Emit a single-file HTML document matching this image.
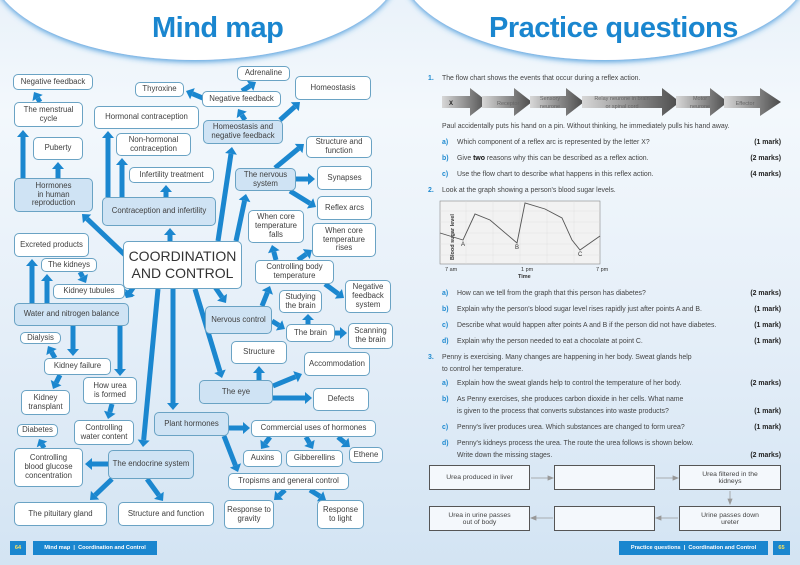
<!DOCTYPE html>
<html><head><meta charset="utf-8">
<style>
*{margin:0;padding:0;box-sizing:border-box}
body{width:800px;height:565px;overflow:hidden;position:relative;font-family:"Liberation Sans",sans-serif;background:linear-gradient(180deg,#eaf2fa 0%,#f3f8fc 20%,#e4eef8 60%,#d3e4f3 100%)}
.b{position:absolute;background:#fff;border:1px solid #6aa3c4;border-radius:5px;display:flex;align-items:center;justify-content:center;text-align:center;font-size:7.8px;line-height:1.15;color:#404040;padding:0 2px}
.h{background:#cfe3f4}
.t{position:absolute;font-size:6.9px;color:#444;white-space:nowrap}
.n{position:absolute;font-size:6.9px;color:#1f8ad0;font-weight:bold}
.m{position:absolute;right:19px;font-size:6.9px;font-weight:bold;color:#222}
.fb{position:absolute;border:1px solid #555;background:#f4f8fc;display:flex;align-items:center;justify-content:center;text-align:center;font-size:6.8px;color:#444}
h1{position:absolute;top:12px;font-size:29px;color:#1a86cf;font-weight:bold;letter-spacing:-0.5px}
.ft{position:absolute;background:#1a86cf;color:#fff;font-size:5.6px;font-weight:bold;display:flex;align-items:center;justify-content:center;height:14px;top:541px}
</style></head><body>
<svg width="800" height="565" style="position:absolute;left:0;top:0">
<defs>
<filter id="sh" x="-10%" y="-30%" width="120%" height="160%"><feDropShadow dx="0" dy="2" stdDeviation="3" flood-color="#2a8ad6" flood-opacity="0.8"/></filter>
<linearGradient id="g" x1="0" x2="1"><stop offset="0" stop-color="#d8d8d8"/><stop offset="1" stop-color="#4a4a4a"/></linearGradient>
</defs>
<ellipse cx="195" cy="-35" rx="205" ry="95" fill="#fff" filter="url(#sh)"/>
<ellipse cx="605" cy="-35" rx="205" ry="95" fill="#fff" filter="url(#sh)"/>
<g id="arr" fill="#1b87cf" stroke="#1b87cf"></g>
<g>
<polygon points="442,96 470,96 470,88 488,102 470,116 470,108 442,108" fill="url(#g)"/>
<polygon points="482,96 514,96 514,88 532,102 514,116 514,108 482,108" fill="url(#g)"/>
<polygon points="530,96 566,96 566,88 584,102 566,116 566,108 530,108" fill="url(#g)"/>
<polygon points="582,96 662,96 662,88 680,102 662,116 662,108 582,108" fill="url(#g)"/>
<polygon points="676,96 710,96 710,88 728,102 710,116 710,108 676,108" fill="url(#g)"/>
<polygon points="724,96 760,96 760,88 781,102 760,116 760,108 724,108" fill="url(#g)"/>
<text x="449" y="105" font-size="6" font-weight="bold" fill="#222">X</text>
<text x="497" y="105" font-size="5.5" fill="#666">Receptor</text>
<text x="550" y="100" font-size="5.5" fill="#666" text-anchor="middle">Sensory</text><text x="550" y="108" font-size="5.5" fill="#666" text-anchor="middle">neurone</text>
<text x="622" y="100" font-size="5.5" fill="#666" text-anchor="middle">Relay neurone in brain</text><text x="622" y="108" font-size="5.5" fill="#666" text-anchor="middle">or spinal cord</text>
<text x="700" y="100" font-size="5.5" fill="#666" text-anchor="middle">Motor</text><text x="700" y="108" font-size="5.5" fill="#666" text-anchor="middle">neurone</text>
<text x="745" y="105" font-size="5.5" fill="#666" text-anchor="middle">Effector</text>
</g>
<g>
<rect x="440" y="201" width="160" height="63" fill="#f2f2f2" stroke="#888" stroke-width="0.6"/>
<g stroke="#ddd" stroke-width="0.4">
<line x1="440" y1="211" x2="600" y2="211"/><line x1="440" y1="222" x2="600" y2="222"/><line x1="440" y1="233" x2="600" y2="233"/><line x1="440" y1="244" x2="600" y2="244"/><line x1="440" y1="255" x2="600" y2="255"/>
<line x1="466" y1="201" x2="466" y2="264"/><line x1="493" y1="201" x2="493" y2="264"/><line x1="520" y1="201" x2="520" y2="264"/><line x1="547" y1="201" x2="547" y2="264"/><line x1="574" y1="201" x2="574" y2="264"/>
</g>
<polyline points="440,233 463,240 475,214 490,220 517,243 525,203 545,209 562,218 572,240 580,250 600,236" fill="none" stroke="#555" stroke-width="0.9"/>
<text x="461" y="246" font-size="6" fill="#333">A</text><text x="515" y="249" font-size="6" fill="#333">B</text><text x="578" y="256" font-size="6" fill="#333">C</text>
<text x="446" y="268" font-size="5.5" fill="#333" font-weight="bold" transform="rotate(-90 446 260)" >Blood sugar level</text>
<text x="445" y="271" font-size="5.5" fill="#333">7 am</text><text x="521" y="271" font-size="5.5" fill="#333">1 pm</text><text x="596" y="271" font-size="5.5" fill="#333">7 pm</text>
<text x="518" y="278" font-size="5.5" fill="#333" font-weight="bold">Time</text>
</g>
<g stroke="#999" stroke-width="0.8" fill="#999">
<line x1="531" y1="478" x2="550" y2="478"/><polygon points="553,478 548,476 548,480"/>
<line x1="656" y1="478" x2="675" y2="478"/><polygon points="678,478 673,476 673,480"/>
<line x1="730" y1="491" x2="730" y2="501"/><polygon points="730,504 728,499 732,499"/>
<line x1="678" y1="518" x2="659" y2="518"/><polygon points="656,518 661,516 661,520"/>
<line x1="553" y1="518" x2="534" y2="518"/><polygon points="531,518 536,516 536,520"/>
</g>
</svg>

<h1 style="left:152px">Mind map</h1>
<h1 style="left:489px">Practice questions</h1>

<div class="b" style="left:13px;top:74px;width:80px;height:16px">Negative feedback</div>
<div class="b" style="left:14px;top:102px;width:69px;height:25px">The menstrual<br>cycle</div>
<div class="b" style="left:33px;top:137px;width:50px;height:23px">Puberty</div>
<div class="b h" style="left:14px;top:178px;width:79px;height:34px">Hormones<br>in human<br>reproduction</div>
<div class="b" style="left:94px;top:106px;width:105px;height:23px">Hormonal contraception</div>
<div class="b" style="left:116px;top:133px;width:75px;height:23px">Non-hormonal<br>contraception</div>
<div class="b" style="left:129px;top:167px;width:85px;height:16px">Infertility treatment</div>
<div class="b h" style="left:102px;top:197px;width:114px;height:29px">Contraception and infertility</div>
<div class="b" style="left:135px;top:82px;width:49px;height:15px">Thyroxine</div>
<div class="b" style="left:202px;top:91px;width:79px;height:16px">Negative feedback</div>
<div class="b" style="left:237px;top:66px;width:53px;height:15px">Adrenaline</div>
<div class="b" style="left:295px;top:76px;width:76px;height:24px">Homeostasis</div>
<div class="b h" style="left:203px;top:120px;width:80px;height:24px">Homeostasis and<br>negative feedback</div>
<div class="b" style="left:306px;top:136px;width:66px;height:22px">Structure and<br>function</div>
<div class="b h" style="left:235px;top:168px;width:61px;height:23px">The nervous<br>system</div>
<div class="b" style="left:317px;top:166px;width:55px;height:24px">Synapses</div>
<div class="b" style="left:317px;top:196px;width:55px;height:24px">Reflex arcs</div>
<div class="b" style="left:248px;top:210px;width:56px;height:33px">When core<br>temperature<br>falls</div>
<div class="b" style="left:312px;top:223px;width:64px;height:34px">When core<br>temperature<br>rises</div>
<div class="b" style="left:123px;top:241px;width:119px;height:48px;font-size:14px;color:#333;line-height:1.25">COORDINATION<br>AND CONTROL</div>
<div class="b" style="left:255px;top:260px;width:79px;height:24px">Controlling body<br>temperature</div>
<div class="b" style="left:345px;top:280px;width:46px;height:33px">Negative<br>feedback<br>system</div>
<div class="b" style="left:279px;top:290px;width:43px;height:23px">Studying<br>the brain</div>
<div class="b" style="left:286px;top:324px;width:49px;height:18px">The brain</div>
<div class="b" style="left:348px;top:323px;width:45px;height:26px">Scanning<br>the brain</div>
<div class="b h" style="left:205px;top:306px;width:67px;height:28px">Nervous control</div>
<div class="b" style="left:231px;top:341px;width:56px;height:23px">Structure</div>
<div class="b" style="left:304px;top:352px;width:66px;height:24px">Accommodation</div>
<div class="b h" style="left:199px;top:380px;width:74px;height:24px">The eye</div>
<div class="b" style="left:313px;top:388px;width:56px;height:23px">Defects</div>
<div class="b" style="left:14px;top:233px;width:75px;height:24px">Excreted products</div>
<div class="b" style="left:41px;top:258px;width:56px;height:14px">The kidneys</div>
<div class="b" style="left:53px;top:284px;width:72px;height:15px">Kidney tubules</div>
<div class="b h" style="left:14px;top:303px;width:115px;height:23px">Water and nitrogen balance</div>
<div class="b" style="left:20px;top:332px;width:41px;height:12px">Dialysis</div>
<div class="b" style="left:44px;top:358px;width:67px;height:17px">Kidney failure</div>
<div class="b" style="left:21px;top:390px;width:49px;height:25px">Kidney<br>transplant</div>
<div class="b" style="left:83px;top:377px;width:54px;height:27px">How urea<br>is formed</div>
<div class="b" style="left:74px;top:420px;width:60px;height:25px">Controlling<br>water content</div>
<div class="b" style="left:17px;top:424px;width:41px;height:13px">Diabetes</div>
<div class="b" style="left:14px;top:448px;width:69px;height:39px">Controlling<br>blood glucose<br>concentration</div>
<div class="b h" style="left:108px;top:450px;width:86px;height:29px">The endocrine system</div>
<div class="b" style="left:14px;top:502px;width:93px;height:24px">The pituitary gland</div>
<div class="b" style="left:118px;top:502px;width:96px;height:24px">Structure and function</div>
<div class="b h" style="left:154px;top:412px;width:75px;height:24px">Plant hormones</div>
<div class="b" style="left:251px;top:420px;width:125px;height:17px">Commercial uses of hormones</div>
<div class="b" style="left:243px;top:450px;width:39px;height:17px">Auxins</div>
<div class="b" style="left:286px;top:450px;width:57px;height:17px">Gibberellins</div>
<div class="b" style="left:349px;top:447px;width:34px;height:16px">Ethene</div>
<div class="b" style="left:228px;top:473px;width:121px;height:17px">Tropisms and general control</div>
<div class="b" style="left:224px;top:500px;width:50px;height:29px">Response to<br>gravity</div>
<div class="b" style="left:317px;top:500px;width:47px;height:29px">Response<br>to light</div>

<div class="ft" style="left:10px;width:16px;color:#ffe45c">64</div>
<div class="ft" style="left:33px;width:124px">Mind map &nbsp;|&nbsp; Coordination and Control</div>
<div class="ft" style="left:619px;width:149px">Practice questions &nbsp;|&nbsp; Coordination and Control</div>
<div class="ft" style="left:773px;width:17px;color:#ffe45c">65</div>

<div class="n" style="left:428px;top:75px">1.</div><div class="t" style="left:442px;top:75px">The flow chart shows the events that occur during a reflex action.</div>
<div class="t" style="left:442px;top:123px">Paul accidentally puts his hand on a pin. Without thinking, he immediately pulls his hand away.</div>
<div class="n" style="left:442px;top:139px">a)</div><div class="t" style="left:457px;top:139px">Which component of a reflex arc is represented by the letter X?</div><div class="m" style="top:139px">(1 mark)</div>
<div class="n" style="left:442px;top:155px">b)</div><div class="t" style="left:457px;top:155px">Give <b style="color:#111">two</b> reasons why this can be described as a reflex action.</div><div class="m" style="top:155px">(2 marks)</div>
<div class="n" style="left:442px;top:171px">c)</div><div class="t" style="left:457px;top:171px">Use the flow chart to describe what happens in this reflex action.</div><div class="m" style="top:171px">(4 marks)</div>
<div class="n" style="left:428px;top:187px">2.</div><div class="t" style="left:442px;top:187px">Look at the graph showing a person's blood sugar levels.</div>
<div class="n" style="left:442px;top:290px">a)</div><div class="t" style="left:457px;top:290px">How can we tell from the graph that this person has diabetes?</div><div class="m" style="top:290px">(2 marks)</div>
<div class="n" style="left:442px;top:306px">b)</div><div class="t" style="left:457px;top:306px">Explain why the person's blood sugar level rises rapidly just after points A and B.</div><div class="m" style="top:306px">(1 mark)</div>
<div class="n" style="left:442px;top:322px">c)</div><div class="t" style="left:457px;top:322px">Describe what would happen after points A and B if the person did not have diabetes.</div><div class="m" style="top:322px">(1 mark)</div>
<div class="n" style="left:442px;top:338px">d)</div><div class="t" style="left:457px;top:338px">Explain why the person needed to eat a chocolate at point C.</div><div class="m" style="top:338px">(1 mark)</div>
<div class="n" style="left:428px;top:354px">3.</div><div class="t" style="left:442px;top:354px">Penny is exercising. Many changes are happening in her body. Sweat glands help</div>
<div class="t" style="left:442px;top:366px">to control her temperature.</div>
<div class="n" style="left:442px;top:380px">a)</div><div class="t" style="left:457px;top:380px">Explain how the sweat glands help to control the temperature of her body.</div><div class="m" style="top:380px">(2 marks)</div>
<div class="n" style="left:442px;top:396px">b)</div><div class="t" style="left:457px;top:396px">As Penny exercises, she produces carbon dioxide in her cells. What name</div>
<div class="t" style="left:457px;top:408px">is given to the process that converts substances into waste products?</div><div class="m" style="top:408px">(1 mark)</div>
<div class="n" style="left:442px;top:424px">c)</div><div class="t" style="left:457px;top:424px">Penny's liver produces urea. Which substances are changed to form urea?</div><div class="m" style="top:424px">(1 mark)</div>
<div class="n" style="left:442px;top:440px">d)</div><div class="t" style="left:457px;top:440px">Penny's kidneys process the urea. The route the urea follows is shown below.</div>
<div class="t" style="left:457px;top:452px">Write down the missing stages.</div><div class="m" style="top:452px">(2 marks)</div>

<div class="fb" style="left:429px;top:465px;width:101px;height:25px">Urea produced in liver</div>
<div class="fb" style="left:554px;top:465px;width:101px;height:25px"></div>
<div class="fb" style="left:679px;top:465px;width:102px;height:25px">Urea filtered in the<br>kidneys</div>
<div class="fb" style="left:429px;top:506px;width:101px;height:25px">Urea in urine passes<br>out of body</div>
<div class="fb" style="left:554px;top:506px;width:101px;height:25px"></div>
<div class="fb" style="left:679px;top:506px;width:102px;height:25px">Urine passes down<br>ureter</div>

<script>
var A=[[125,255,82,214],[170,241,170,228],[218,241,232,147],[236,241,246,194],[135,285,126,298],[215,287,226,303],[195,289,222,378],[173,289,173,410],[158,289,143,447],
[23,178,23,130],[58,178,58,162],[40,102,34,92],[108,197,108,131],[122,197,122,158],[166,197,166,185],
[245,120,238,109],[280,120,300,102],[205,99,186,91],[242,91,256,82],
[275,168,304,144],[296,179,315,179],[290,191,316,207],
[276,260,272,245],[298,260,312,250],[325,284,344,298],
[262,306,270,286],[272,321,285,329],[308,324,308,314],[335,333,347,333],
[259,380,259,366],[273,386,302,374],[273,398,312,398],
[229,428,250,428],[224,436,238,472],[270,437,261,449],[306,437,313,449],[338,437,350,447],
[285,490,274,500],[310,490,326,500],
[108,464,85,464],[112,479,90,500],[147,479,163,501],
[73,326,73,356],[120,326,120,376],[55,358,48,346],[60,375,53,389],[112,404,108,419],[44,448,39,439],
[32,303,32,259],[47,303,47,274],[80,272,86,283],[130,291,126,298]];
var g=document.getElementById('arr'),s='';
A.forEach(function(a){var dx=a[2]-a[0],dy=a[3]-a[1],L=Math.sqrt(dx*dx+dy*dy),ux=dx/L,uy=dy/L,h=Math.min(7,L*0.6),bx=a[2]-ux*h,by=a[3]-uy*h,px=-uy*6,py=ux*6;
s+='<line x1="'+a[0]+'" y1="'+a[1]+'" x2="'+bx+'" y2="'+by+'" stroke-width="5"/>';
s+='<polygon stroke="none" points="'+a[2]+','+a[3]+' '+(bx+px)+','+(by+py)+' '+(bx-px)+','+(by-py)+'"/>';});
g.innerHTML=s;
</script>
</body></html>
